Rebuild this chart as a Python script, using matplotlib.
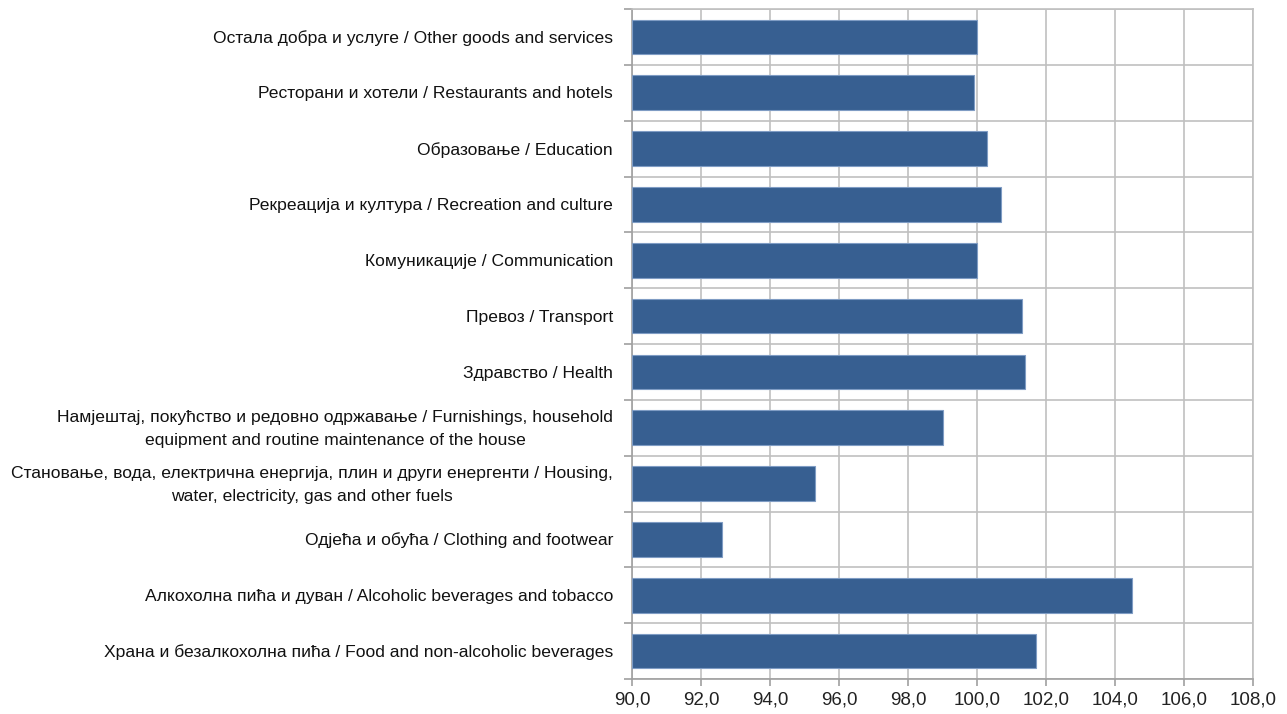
import matplotlib
matplotlib.use('Agg')
from matplotlib import pyplot as plt
import numpy as np

# categories from bottom to top
labels_sr = ['Храна и безалкохолна пића',
             'Алкохолна пића и дуван',
             'Одјећа и обућа',
             'Становање, вода, електрична енергија, плин и други енергенти',
             'Намјештај, покућство и редовно одржавање',
             'Здравство',
             'Превоз',
             'Комуникације',
             'Рекреација и култура',
             'Образовање',
             'Ресторани и хотели',
             'Остала добра и услуге']
labels_en = ['Food and non-alcoholic beverages',
             'Alcoholic beverages and tobacco',
             'Clothing and footwear',
             'Housing,\nwater, electricity, gas and other fuels',
             'Furnishings, household\nequipment and routine maintenance of the house',
             'Health',
             'Transport',
             'Communication',
             'Recreation and culture',
             'Education',
             'Restaurants and hotels',
             'Other goods and services']
values = [101.7, 104.5, 92.6, 95.3, 99.0, 101.4, 101.3, 100.0, 100.7, 100.3, 99.9, 100.0]
xticks = [90, 92, 94, 96, 98, 100, 102, 104, 106, 108]

plt.rcParams['font.family'] = ['Liberation Sans', 'DejaVu Sans']

fig = plt.figure(figsize=(12.87, 7.14), dpi=100)
ax = fig.add_axes([632/1287, 35/714, (1253-632)/1287, (679-9)/714])

ind = np.arange(len(values))
ax.barh(ind, [v - 90 for v in values], left=90, height=0.62,
        color='#375f91', edgecolor='#7f9cc4', linewidth=0.8, zorder=3)

ax.set_xlim(90, 108)
ax.set_ylim(-0.5, len(values) - 0.5)
ax.set_xticks(xticks)
ax.set_xticklabels([('%.1f' % t).replace('.', ',') for t in xticks],
                   fontsize=13.5, color='#222222')

# gridlines at category boundaries
bounds = np.arange(-0.5, len(values), 1.0)
ax.set_yticks(bounds)
ax.set_yticklabels([])
ax.grid(True, axis='both', color='#c0c0c0', linewidth=1.2, zorder=0)
ax.tick_params(axis='y', length=6, color='#a0a0a0', width=1.2)
ax.tick_params(axis='x', length=5, color='#a0a0a0', width=1.2, pad=4)

for s in ax.spines.values():
    s.set_color('#c0c0c0')
    s.set_linewidth(1.2)
ax.spines['left'].set_color('#a0a0a0')
ax.spines['bottom'].set_color('#a0a0a0')

# category labels, Serbian then English
for i in ind:
    txt = labels_sr[i] + ' / ' + labels_en[i]
    ax.text(89.45, i - 0.02, txt, ha='right', va='center',
            fontsize=12.6, color='#111111', linespacing=1.65,
            multialignment='center')

fig.savefig('out.png', dpi=100)
